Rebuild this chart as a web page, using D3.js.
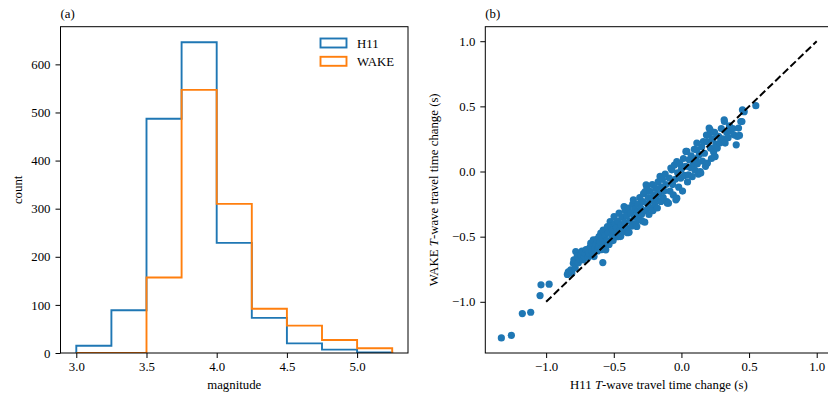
<html lang="en">
<head>
	<title>Histogram and scatter</title>
	<script src="https://d3js.org/d3.v7.min.js" charset="utf-8"></script>
	<style>
		body { margin: 0; background: #fff; }
		text { font-family: "Liberation Serif", "Times New Roman", serif; }
	</style>
</head>
<body>
	<script>
	// histogram bins (magnitude)
	var binEdges = [3.0, 3.25, 3.5, 3.75, 4.0, 4.25, 4.5, 4.75, 5.0, 5.25];
	var h11Counts = [15, 89, 487, 646, 229, 73, 20, 7, 1];
	var wakeCounts = [0, 0, 157, 547, 310, 92, 57, 27, 10];
	var seriesNames = ["H11", "WAKE"];

	var magTicks = [3.0, 3.5, 4.0, 4.5, 5.0];
	var countTicks = [0, 100, 200, 300, 400, 500, 600];
	var changeTicks = [-1.0, -0.5, 0.0, 0.5, 1.0];

	// travel time changes (s): H11 (x) vs WAKE (y)
	var h11Change = [-1.331, -1.257, -1.176, -1.114, -1.045, -1.038, -0.978, -0.581,
		-0.843, -0.836, -0.818, -0.810, -0.799, -0.795, -0.785, -0.781, -0.770, -0.762,
		-0.755, -0.744, -0.735, -0.725, -0.718, -0.710, -0.705, -0.695, -0.690, -0.682,
		-0.675, -0.670, -0.662, -0.655, -0.651, -0.646, -0.640, -0.632, -0.625, -0.620,
		-0.612, -0.609, -0.600, -0.596, -0.590, -0.585, -0.578, -0.570, -0.565, -0.559,
		-0.552, -0.547, -0.540, -0.535, -0.527, -0.522, -0.515, -0.510, -0.505, -0.498,
		-0.495, -0.488, -0.480, -0.475, -0.470, -0.461, -0.455, -0.453, -0.448, -0.445,
		-0.440, -0.432, -0.424, -0.420, -0.416, -0.410, -0.405, -0.398, -0.392, -0.387,
		-0.380, -0.375, -0.368, -0.360, -0.355, -0.350, -0.345, -0.338, -0.330, -0.325,
		-0.320, -0.315, -0.308, -0.300, -0.295, -0.290, -0.285, -0.280, -0.271, -0.268,
		-0.265, -0.261, -0.256, -0.250, -0.245, -0.240, -0.235, -0.228, -0.220, -0.215,
		-0.210, -0.205, -0.198, -0.190, -0.185, -0.178, -0.172, -0.165, -0.158, -0.152,
		-0.148, -0.140, -0.135, -0.128, -0.120, -0.115, -0.108, -0.104, -0.096, -0.090,
		-0.085, -0.078, -0.071, -0.065, -0.060, -0.052, -0.045, -0.041, -0.034, -0.034,
		-0.028, -0.020, -0.012, -0.005, 0.000, 0.008, 0.015, 0.022, 0.030, 0.033,
		0.040, 0.045, 0.052, 0.058, 0.065, 0.072, 0.080, 0.088, 0.095, 0.100,
		0.108, 0.114, 0.114, 0.118, 0.125, 0.132, 0.138, 0.143, 0.150, 0.155,
		0.162, 0.170, 0.178, 0.185, 0.190, 0.192, 0.200, 0.205, 0.212, 0.215,
		0.222, 0.230, 0.238, 0.245, 0.249, 0.255, 0.265, 0.275, 0.285, 0.295,
		0.305, 0.316, 0.318, 0.323, 0.335, 0.345, 0.355, 0.365, 0.380, 0.390,
		0.405, 0.414, 0.422, 0.429, 0.439, 0.447, 0.451, 0.459, 0.464, 0.550];
	var wakeChange = [-1.277, -1.257, -1.090, -1.080, -0.952, -0.870, -0.865, -0.699,
		-0.790, -0.770, -0.755, -0.780, -0.704, -0.678, -0.740, -0.614, -0.650, -0.700,
		-0.672, -0.640, -0.610, -0.678, -0.655, -0.630, -0.600, -0.601, -0.660, -0.625,
		-0.580, -0.550, -0.615, -0.640, -0.525, -0.653, -0.590, -0.560, -0.520, -0.610,
		-0.575, -0.499, -0.540, -0.473, -0.600, -0.510, -0.450, -0.560, -0.490, -0.601,
		-0.530, -0.422, -0.470, -0.560, -0.384, -0.420, -0.500, -0.450, -0.530, -0.346,
		-0.400, -0.470, -0.430, -0.500, -0.380, -0.320, -0.450, -0.499, -0.494, -0.410,
		-0.350, -0.460, -0.269, -0.390, -0.300, -0.430, -0.340, -0.470, -0.280, -0.466,
		-0.380, -0.320, -0.420, -0.250, -0.217, -0.350, -0.290, -0.400, -0.422, -0.310,
		-0.250, -0.360, -0.200, -0.280, -0.330, -0.380, -0.230, -0.170, -0.389, -0.154,
		-0.300, -0.102, -0.115, -0.250, -0.200, -0.330, -0.150, -0.280, -0.220, -0.100,
		-0.300, -0.180, -0.250, -0.130, -0.210, -0.280, -0.080, -0.170, -0.038, -0.230,
		-0.120, -0.060, -0.200, -0.150, -0.020, -0.100, -0.230, -0.243, -0.243, -0.050,
		-0.150, 0.026, 0.013, -0.100, -0.180, 0.050, -0.060, -0.217, 0.077, -0.205,
		-0.010, -0.120, 0.060, -0.050, 0.020, -0.150, 0.100, -0.030, 0.040, 0.154,
		0.154, -0.080, -0.025, 0.090, 0.030, 0.120, -0.040, 0.060, 0.170, 0.010,
		0.100, 0.218, 0.167, 0.060, -0.020, 0.130, 0.000, -0.012, 0.190, 0.080,
		0.230, 0.140, 0.040, 0.280, 0.230, 0.065, 0.282, 0.333, 0.320, 0.180,
		0.100, 0.250, 0.150, 0.300, 0.115, 0.210, 0.180, 0.270, 0.220, 0.330,
		0.250, 0.397, 0.384, 0.218, 0.300, 0.260, 0.350, 0.310, 0.330, 0.280,
		0.205, 0.269, 0.333, 0.277, 0.384, 0.384, 0.474, 0.461, 0.459, 0.505];
	var oneToOne = [-1.0, 1.0];

	var W = 828, H = 396;
	var blue = "#1f77b4", orange = "#ff7f0e";
	var fs = "12.8px";

	var svg = d3.select("body").append("svg")
		.attr("width", W)
		.attr("height", H);

	var yTop = 26.7, yBottom = 353;

	function drawAxes(g, x, y, xt, yt, fmtX, fmtY) {
		var xa = g.append("g").attr("transform", "translate(0," + yBottom + ")")
			.call(d3.axisBottom(x).tickValues(xt).tickFormat(fmtX).tickSize(5).tickPadding(4).tickSizeOuter(0));
		var ya = g.append("g").attr("transform", "translate(" + x.range()[0] + ",0)")
			.call(d3.axisLeft(y).tickValues(yt).tickFormat(fmtY).tickSize(5).tickPadding(5).tickSizeOuter(0));
		[xa, ya].forEach(function(a) {
			a.select(".domain").remove();
			a.selectAll("text").style("font-family", "'Liberation Serif', serif").style("font-size", fs).attr("fill", "#000");
			a.selectAll("line").attr("stroke", "#000").attr("stroke-width", 1);
		});
		g.append("rect")
			.attr("x", x.range()[0]).attr("y", yTop)
			.attr("width", x.range()[1] - x.range()[0]).attr("height", yBottom - yTop)
			.attr("fill", "none").attr("stroke", "#000").attr("stroke-width", 1);
	}

	// ---- panel (a): step histograms
	var xa = d3.scaleLinear().domain([2.8875, 5.3625]).range([60.5, 408]);
	var ya = d3.scaleLinear().domain([0, 678.3]).range([yBottom, yTop]);
	var ga = svg.append("g");

	svg.append("clipPath").attr("id", "clipA").append("rect")
		.attr("x", 60.5).attr("y", yTop).attr("width", 408 - 60.5).attr("height", yBottom - yTop);

	function stepPath(counts) {
		var pts = [[binEdges[0], 0]];
		counts.forEach(function(c, i) {
			pts.push([binEdges[i], c]);
			pts.push([binEdges[i + 1], c]);
		});
		pts.push([binEdges[binEdges.length - 1], 0]);
		return d3.line().x(function(d) { return xa(d[0]); }).y(function(d) { return ya(d[1]); })(pts);
	}

	[h11Counts, wakeCounts].forEach(function(c, i) {
		ga.append("path")
			.attr("d", stepPath(c))
			.attr("clip-path", "url(#clipA)")
			.attr("fill", "none")
			.attr("stroke", i == 0 ? blue : orange)
			.attr("stroke-width", 1.9)
			.attr("stroke-linejoin", "miter");
	});

	drawAxes(ga, xa, ya, magTicks, countTicks, d3.format(".1f"), d3.format("d"));

	// legend
	seriesNames.forEach(function(name, i) {
		ga.append("rect")
			.attr("x", 320.5).attr("y", 38.5 + i * 18.3)
			.attr("width", 26).attr("height", 9)
			.attr("fill", "none")
			.attr("stroke", i == 0 ? blue : orange)
			.attr("stroke-width", 1.9);
		ga.append("text")
			.attr("x", 357).attr("y", 47.5 + i * 18.3)
			.style("font-size", fs)
			.text(name);
	});

	ga.append("text").attr("x", 234.25).attr("y", 388.5)
		.attr("text-anchor", "middle").style("font-size", fs).text("magnitude");
	ga.append("text").attr("transform", "translate(22," + ((yTop + yBottom) / 2) + ") rotate(-90)")
		.attr("text-anchor", "middle").style("font-size", fs).text("count");
	ga.append("text").attr("x", 60.5).attr("y", 17.5).style("font-size", fs).text("(a)");

	// ---- panel (b): scatter
	var xb = d3.scaleLinear().domain([-1.4497, 1.1167]).range([485.3, 832.5]);
	var yb = d3.scaleLinear().domain([-1.3929, 1.1114]).range([yBottom, yTop]);
	var gb = svg.append("g");

	svg.append("clipPath").attr("id", "clipB").append("rect")
		.attr("x", 485.3).attr("y", yTop).attr("width", 832.5 - 485.3).attr("height", yBottom - yTop);

	var plotB = gb.append("g").attr("clip-path", "url(#clipB)");
	plotB.selectAll("circle")
		.data(h11Change)
		.enter()
		.append("circle")
		.attr("cx", function(d) { return xb(d); })
		.attr("cy", function(d, i) { return yb(wakeChange[i]); })
		.attr("r", 3.6)
		.attr("fill", blue);

	plotB.append("line")
		.attr("x1", xb(oneToOne[0])).attr("y1", yb(oneToOne[0]))
		.attr("x2", xb(oneToOne[1])).attr("y2", yb(oneToOne[1]))
		.attr("stroke", "#000")
		.attr("stroke-width", 2)
		.attr("stroke-dasharray", "7.4,3.2");

	drawAxes(gb, xb, yb, changeTicks, changeTicks, d3.format(".1f"), d3.format(".1f"));

	var xl = gb.append("text").attr("x", 658.9).attr("y", 388.5)
		.attr("text-anchor", "middle").style("font-size", fs);
	xl.append("tspan").text("H11 ");
	xl.append("tspan").style("font-style", "italic").text("T");
	xl.append("tspan").text("-wave travel time change (s)");

	var yl = gb.append("text").attr("transform", "translate(438," + ((yTop + yBottom) / 2) + ") rotate(-90)")
		.attr("text-anchor", "middle").style("font-size", fs);
	yl.append("tspan").text("WAKE ");
	yl.append("tspan").style("font-style", "italic").text("T");
	yl.append("tspan").text("-wave travel time change (s)");

	gb.append("text").attr("x", 485.3).attr("y", 17.5).style("font-size", fs).text("(b)");
	</script>
</body>
</html>
